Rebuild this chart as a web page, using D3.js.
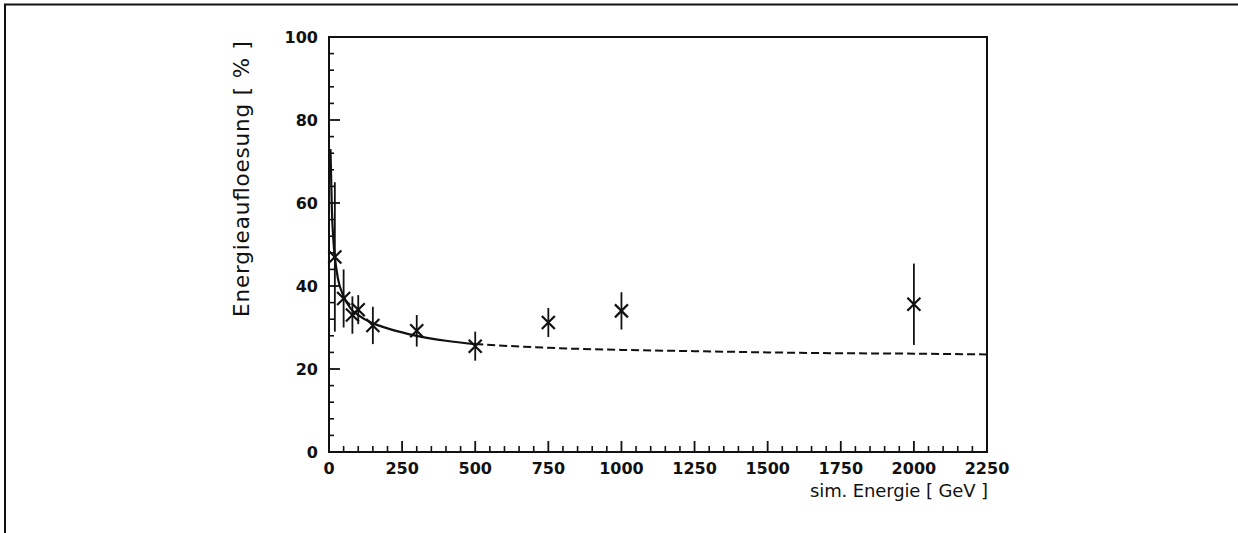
<!DOCTYPE html>
<html>
<head>
<meta charset="utf-8">
<script src="https://cdn.jsdelivr.net/npm/d3@7"></script>
<style>
  body { margin: 0; background: #fff; }
  svg { display: block; }
  text { font-family: "DejaVu Sans", sans-serif; fill: #111; }
</style>
</head>
<body>
<svg id="chart" width="1238" height="533"></svg>
<script>
// measured points: energy [GeV], resolution [%], error
const energies = [20, 50, 80, 100, 150, 300, 500, 750, 1000, 2000]
const resolution = [47, 37, 33, 34.3, 30.5, 29.2, 25.5, 31.2, 34, 35.6]
const errors = [18, 7, 4.5, 3.5, 4.5, 3.8, 3.5, 3.5, 4.5, 9.8]

// fitted curve (solid part, then dashed part)
const fitSolidE = [5, 10, 15, 20, 30, 50, 75, 100, 150, 200, 300, 400, 500]
const fitSolidR = [73, 58, 51, 47, 42, 37.5, 34.5, 33, 31, 29.8, 28, 26.8, 26]
const fitDashE = [500, 750, 1000, 1250, 1500, 1750, 2000, 2250]
const fitDashR = [26, 25.1, 24.6, 24.3, 24.0, 23.8, 23.7, 23.5]

const xTicks = [0, 250, 500, 750, 1000, 1250, 1500, 1750, 2000, 2250]
const yTicks = [0, 20, 40, 60, 80, 100]

const svg = d3.select('#chart')

const x = d3.scaleLinear().domain([0, 2250]).range([329, 987])
const y = d3.scaleLinear().domain([0, 100]).range([452, 37])

// scan frame (top and left edges only)
svg.append('path')
	.attr('d', 'M5,533 L5,4.5 L1238,4.5')
	.attr('fill', 'none')
	.attr('stroke', '#111')
	.attr('stroke-width', 2)

// plot box
svg.append('rect')
	.attr('x', x(0)).attr('y', y(100))
	.attr('width', x(2250) - x(0)).attr('height', y(0) - y(100))
	.attr('fill', 'none')
	.attr('stroke', '#111')
	.attr('stroke-width', 2)

// y ticks, inside
const yMinor = d3.range(0, 101, 4).filter(v => v % 20 != 0)
svg.append('g').selectAll('line').data(yMinor).join('line')
	.attr('x1', x(0)).attr('x2', x(0) + 5)
	.attr('y1', d => y(d)).attr('y2', d => y(d))
	.attr('stroke', '#111').attr('stroke-width', 1.6)
svg.append('g').selectAll('line').data(yTicks).join('line')
	.attr('x1', x(0)).attr('x2', x(0) + 11)
	.attr('y1', d => y(d)).attr('y2', d => y(d))
	.attr('stroke', '#111').attr('stroke-width', 1.8)
svg.append('g').selectAll('text').data(yTicks).join('text')
	.attr('x', x(0) - 11).attr('y', d => y(d) + 6)
	.attr('text-anchor', 'end')
	.attr('font-size', 16).attr('font-weight', 'bold')
	.text(d => d)

// x ticks, inside
const xMinor = d3.range(0, 2251, 50).filter(v => v % 250 != 0)
svg.append('g').selectAll('line').data(xMinor).join('line')
	.attr('x1', d => x(d)).attr('x2', d => x(d))
	.attr('y1', y(0)).attr('y2', y(0) - 6)
	.attr('stroke', '#111').attr('stroke-width', 1.6)
svg.append('g').selectAll('line').data(xTicks).join('line')
	.attr('x1', d => x(d)).attr('x2', d => x(d))
	.attr('y1', y(0)).attr('y2', y(0) - 11)
	.attr('stroke', '#111').attr('stroke-width', 1.8)
svg.append('g').selectAll('text').data(xTicks).join('text')
	.attr('x', d => x(d)).attr('y', y(0) + 22)
	.attr('text-anchor', 'middle')
	.attr('font-size', 16).attr('font-weight', 'bold')
	.text(d => d)

// axis titles
svg.append('text')
	.attr('transform', `translate(249,${179}) rotate(-90)`)
	.attr('text-anchor', 'middle')
	.attr('font-size', 21.5)
	.attr('textLength', 276)
	.attr('lengthAdjust', 'spacing')
	.text('Energieaufloesung [ % ]')
svg.append('text')
	.attr('x', 988).attr('y', 497)
	.attr('text-anchor', 'end')
	.attr('font-size', 18)
	.attr('textLength', 178)
	.attr('lengthAdjust', 'spacing')
	.text('sim. Energie [ GeV ]')

// fit curve
const line = d3.line().x(d => x(d[0])).y(d => y(d[1])).curve(d3.curveMonotoneX)
svg.append('path')
	.attr('d', line(d3.zip(fitSolidE, fitSolidR)))
	.attr('fill', 'none').attr('stroke', '#111').attr('stroke-width', 2.2)
svg.append('path')
	.attr('d', line(d3.zip(fitDashE, fitDashR)))
	.attr('fill', 'none').attr('stroke', '#111').attr('stroke-width', 2)
	.attr('stroke-dasharray', '8,4')

// data points with error bars
const pts = d3.zip(energies, resolution, errors)
svg.append('g').selectAll('line').data(pts).join('line')
	.attr('x1', d => x(d[0])).attr('x2', d => x(d[0]))
	.attr('y1', d => y(d[1] - d[2])).attr('y2', d => y(d[1] + d[2]))
	.attr('stroke', '#111').attr('stroke-width', 1.8)
const s = 6.5
svg.append('g').selectAll('path').data(pts).join('path')
	.attr('d', d => {
		const cx = x(d[0]), cy = y(d[1])
		return `M${cx - s},${cy - s}L${cx + s},${cy + s}M${cx - s},${cy + s}L${cx + s},${cy - s}`
	})
	.attr('stroke', '#111').attr('stroke-width', 2.2).attr('fill', 'none')
</script>
</body>
</html>
